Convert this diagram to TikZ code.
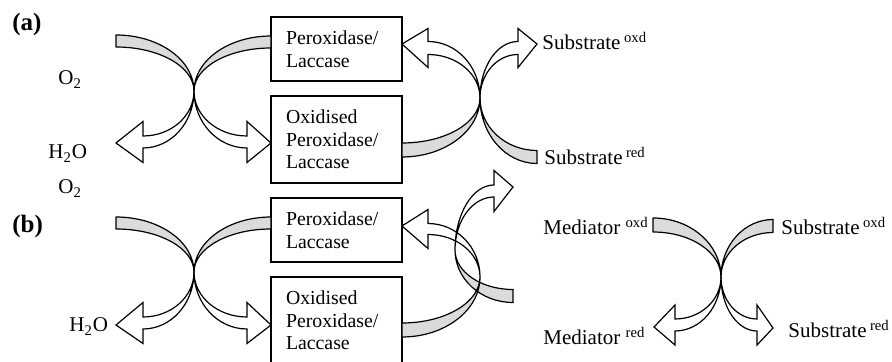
\documentclass[tikz,border=0pt]{standalone}
\usepackage{fontspec}
\setmainfont{Liberation Serif}
\definecolor{bandgrey}{RGB}{218,220,219}
\newcommand\myboxfont{\fontsize{9.9}{11.25}\selectfont}
\newcommand\mylblfont{\fontsize{10.5}{12.5}\selectfont}
\newcommand\mybandpath[6]{%
 \pgfmathsetmacro\myya{#5-#6/2}%
 \pgfmathsetmacro\myyb{#5+#6/2}%
 \pgfmathsetmacro\mycx{#4+0.5523*(#2-#4)}%
 \pgfmathsetmacro\mycya{#3+0.5523*(\myya-#3)}%
 \pgfmathsetmacro\mycyb{#3+0.5523*(\myyb-#3)}%
 \path[#1] (#4,\myya) .. controls (\mycx,\myya) and (#2,\mycya) .. (#2,#3) .. controls (#2,\mycyb) and (\mycx,\myyb) .. (#4,\myyb) -- cycle;}
\newcommand\myarrowpath[9]{%
 \pgfmathsetmacro\myya{#5-#6/2}%
 \pgfmathsetmacro\myyb{#5+#6/2}%
 \pgfmathsetmacro\myha{#5-#7/2}%
 \pgfmathsetmacro\myhb{#5+#7/2}%
 \pgfmathsetmacro\mycx{#4+0.5523*(#2-#4)}%
 \pgfmathsetmacro\mycya{#3+0.5523*(\myya-#3)}%
 \pgfmathsetmacro\mycyb{#3+0.5523*(\myyb-#3)}%
 \path[#1] (#2,#3) .. controls (#2,\mycya) and (\mycx,\myya) .. (#4,\myya) -- (#4,\myha) -- (#8,#9) -- (#4,\myhb) -- (#4,\myyb) .. controls (\mycx,\myyb) and (#2,\mycyb) .. (#2,#3) -- cycle;}
\tikzset{
  enzbox/.style={draw, line width=0.6pt, text width=50.5pt, inner xsep=7.5pt, inner ysep=0pt, align=left, minimum height=#1, font=\myboxfont},
  lbl/.style={inner sep=0pt, anchor=base west, font=\mylblfont},
  plbl/.style={inner sep=0pt, anchor=base west, font=\fontsize{12.5}{14}\selectfont\bfseries},
  gband/.style={fill=bandgrey, draw=black, line width=0.6pt, line join=round},
  warrow/.style={fill=white, draw=black, line width=0.6pt, line join=miter},
  gfill/.style={fill=bandgrey},
  wfill/.style={fill=white},
  outl/.style={draw=black, line width=0.6pt},
}
\begin{document}
\begin{tikzpicture}[x=0.5pt,y=-0.5pt]
\useasboundingbox (0,0) rectangle (892,362);
\clip (0,0) rectangle (892,362);
% panel labels
\node[plbl] (pa) at (12,31) {(a)};
\node[plbl] (pb) at (12,233) {(b)};
% boxes
\node[enzbox=32pt] (e1) at (336.5,49) {Peroxidase/\\Laccase};
\node[enzbox=43.5pt] (e2) at (336.5,139.5) {Oxidised\\Peroxidase/\\Laccase};
\node[enzbox=32pt] (e3) at (336.5,230) {Peroxidase/\\Laccase};
\node[enzbox=43.5pt] (e4) at (336.5,320.5) {Oxidised\\Peroxidase/\\Laccase};
% labels
\node[lbl] (o2a) at (58,85) {O\textsubscript{2}};
\node[lbl] (h2oa) at (48,159) {H\textsubscript{2}O};
\node[lbl] (o2b) at (58,194) {O\textsubscript{2}};
\node[lbl] (h2ob) at (69,332) {H\textsubscript{2}O};
\node[lbl] (sox) at (542,50) {Substrate\,\textsuperscript{oxd}};
\node[lbl] (sred) at (544,165) {Substrate\,\textsuperscript{red}};
\node[lbl] (mox) at (543,235) {Mediator \textsuperscript{oxd}};
\node[lbl] (mred) at (543,345) {Mediator \textsuperscript{red}};
\node[lbl] (sox2) at (781,235) {Substrate\,\textsuperscript{oxd}};
\node[lbl] (sred2) at (788,338) {Substrate\,\textsuperscript{red}};
% (a) left cross
\mybandpath{gband}{194}{91}{116}{41}{12}
\mybandpath{gband}{194}{91}{271}{42}{12}
\myarrowpath{warrow}{194}{91}{143}{142}{12}{41}{116}{143}
\myarrowpath{warrow}{194}{91}{247}{142}{12}{41}{271}{143}
% (a) right cross
\myarrowpath{warrow}{480}{98}{428}{48}{13}{39}{402}{44}
\myarrowpath{warrow}{480}{98}{518}{48}{13}{39}{537}{44}
\mybandpath{gband}{480}{98}{402}{150}{14}
\mybandpath{gband}{480}{98}{537}{157}{13}
% (b) left cross
\mybandpath{gband}{194}{272}{116}{223}{12}
\mybandpath{gband}{194}{272}{271}{223}{12}
\myarrowpath{warrow}{194}{272}{143}{323}{12}{41}{116}{325}
\myarrowpath{warrow}{194}{272}{247}{323}{12}{41}{271}{325}
% (b) interlinked loops
\myarrowpath{wfill}{480}{277}{428}{229}{11}{39}{402}{226}
\myarrowpath{wfill}{455}{250}{494}{191}{12}{41}{513}{187}
\mybandpath{gfill}{480}{277}{402}{330}{14}
\mybandpath{gfill}{455}{250}{513}{296}{13}
\myarrowpath{outl}{480}{277}{428}{229}{11}{39}{402}{226}
\myarrowpath{outl}{455}{250}{494}{191}{12}{41}{513}{187}
\mybandpath{outl}{480}{277}{402}{330}{14}
\mybandpath{outl}{455}{250}{513}{296}{13}
% (b) mediator cross
\mybandpath{gband}{721}{277}{653}{225}{14}
\mybandpath{gband}{721}{277}{773}{226}{13}
\myarrowpath{warrow}{721}{277}{675}{325}{12}{40}{654}{327}
\myarrowpath{warrow}{721}{277}{757}{325}{12}{40}{773}{328}
\end{tikzpicture}
\end{document}
